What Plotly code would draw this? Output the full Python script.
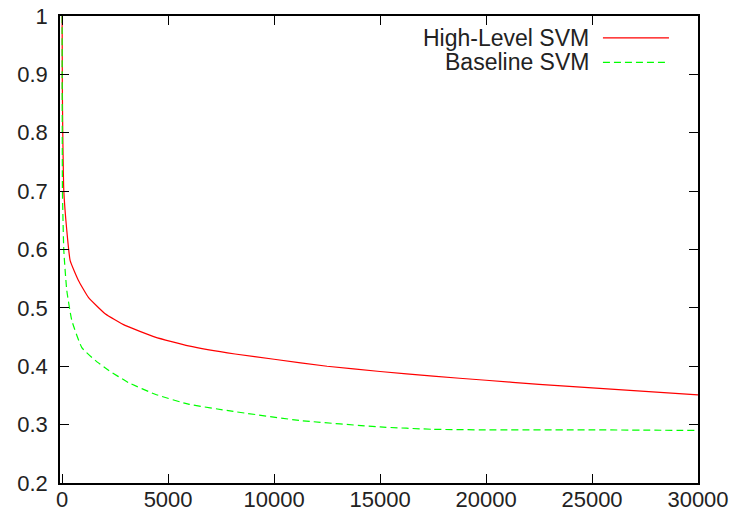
import plotly.graph_objects as go

# High-Level SVM (red, solid)
hl_x = [0, 10, 30, 80, 220, 380, 770, 1240, 2030, 2970, 4390, 5960, 8160,
        10000, 12500, 15000, 17500, 20000, 22500, 25000, 27500, 30000]
hl_y = [1.0, 0.88, 0.80, 0.70, 0.633, 0.581, 0.547, 0.518, 0.490, 0.470, 0.450,
        0.435, 0.421, 0.412, 0.400, 0.391, 0.383, 0.376, 0.369, 0.363, 0.357, 0.351]

# Baseline SVM (green, dashed)
bl_x = [0, 5, 15, 80, 220, 460, 930, 1560, 2190, 3130, 4390, 5960, 8000,
        11230, 15000, 17500, 20000, 25000, 30000]
bl_y = [1.0, 0.85, 0.70, 0.598, 0.530, 0.478, 0.432, 0.410, 0.393, 0.372, 0.352,
        0.335, 0.323, 0.307, 0.296, 0.292, 0.291, 0.291, 0.290]

names = ["High-Level SVM", "Baseline SVM"]
colors = ["#ff0000", "#00ff00"]
dashes = ["solid", "7px,4px"]

x_ticks = [0, 5000, 10000, 15000, 20000, 25000, 30000]
y_ticks = [0.2, 0.3, 0.4, 0.5, 0.6, 0.7, 0.8, 0.9, 1.0]
y_labels = ["0.2", "0.3", "0.4", "0.5", "0.6", "0.7", "0.8", "0.9", "1"]

FONT = "Liberation Sans, Arial, sans-serif"

fig = go.Figure()
for xs, ys, nm, c, d in [(hl_x, hl_y, names[0], colors[0], dashes[0]),
                         (bl_x, bl_y, names[1], colors[1], dashes[1])]:
    fig.add_trace(go.Scatter(x=xs, y=ys, mode="lines", name=nm,
                             line=dict(color=c, width=1.2, dash=d, shape="spline", smoothing=0.4)))

# Legend (gnuplot style: text right-aligned, sample to the right)
leg_rows = [0.953, 0.9005]
for i, nm in enumerate(names):
    fig.add_annotation(x=0.8323, y=leg_rows[i], xref="paper", yref="paper",
                       text=nm, showarrow=False, xanchor="right", yanchor="middle",
                       font=dict(family=FONT, size=23, color="#222"))
    fig.add_shape(type="line", xref="paper", yref="paper",
                  x0=0.851, x1=0.9545, y0=leg_rows[i], y1=leg_rows[i],
                  line=dict(color=colors[i], width=1.2, dash=dashes[i]))

axis_common = dict(showline=True, linecolor="black", linewidth=1.5, mirror="ticks",
                   ticks="inside", ticklen=9, tickwidth=1.2, tickcolor="black",
                   showgrid=False, zeroline=False, automargin=False,
                   ticklabeloverflow="allow",
                   tickfont=dict(family=FONT, size=22, color="#222"))

fig.update_xaxes(range=[-100, 30000], tickvals=x_ticks,
                 ticktext=[str(v) for v in x_ticks], ticklabelstandoff=-4, **axis_common)
fig.update_yaxes(range=[0.2, 1.0], tickvals=y_ticks, ticktext=y_labels,
                 ticklabelstandoff=6, **axis_common)

fig.update_layout(width=734, height=517, showlegend=False,
                  margin=dict(l=60, r=36, t=16, b=34),
                  plot_bgcolor="white", paper_bgcolor="white")

# remove the default 8px page margin so the figure sits at the window origin
fig.write_html("out.html", config={"displayModeBar": False},
               post_script="document.body.style.margin='0';document.body.style.overflow='hidden';")
